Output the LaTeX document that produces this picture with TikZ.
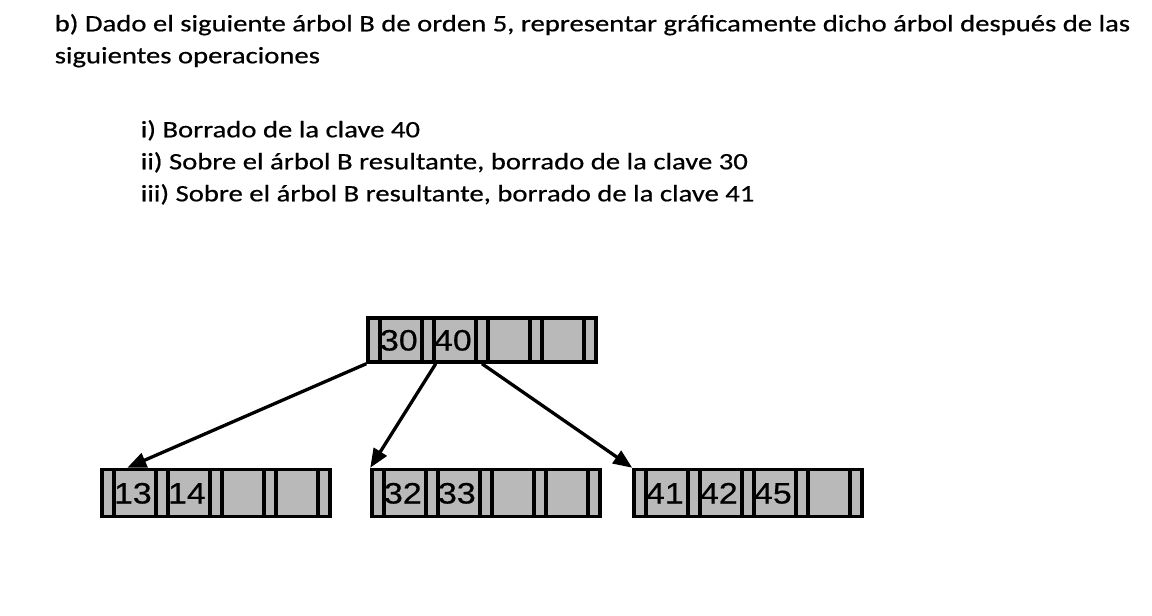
\documentclass[tikz,border=0pt]{standalone}
\usepackage{fontspec}
\setmainfont{Carlito}[FakeStretch=1.22,FakeBold=0.6]
\newfontfamily\keyfont{Liberation Sans}[FakeStretch=1.15,FakeBold=0.5]
\usetikzlibrary{arrows.meta,calc}

\begin{document}
\begin{tikzpicture}[
  x=1pt,y=-1pt,
  line width=3.5pt,
  txt/.style={anchor=base west, inner sep=0pt, font=\fontsize{23.5}{28}\selectfont},
  ptr/.style={draw, fill=gray!55, minimum width=12pt, minimum height=44pt, inner sep=0pt},
  key/.style={draw, fill=gray!55, text width=42pt, text height=21pt, text depth=0pt, minimum height=44pt, inner xsep=0pt, inner ysep=0pt, align=left, font=\keyfont\fontsize{29.5}{29.5}\selectfont},
  low/.style={minimum height=47pt},
  link/.style={-{Triangle[length=19pt,width=15pt]}, line width=3.3pt}
]
\useasboundingbox (0,0) rectangle (1152,616);

\node[txt] (t1) at (53,31.3) {b) Dado el siguiente árbol B de orden 5, representar gráficamente dicho árbol después de las};
\node[txt] (t2) at (53,63.3) {siguientes operaciones};
\node[txt] (op1) at (139,137.3) {i) Borrado de la clave 40};
\node[txt] (op2) at (139,169.3) {ii) Sobre el árbol B resultante, borrado de la clave 30};
\node[txt] (op3) at (139,201.3) {iii) Sobre el árbol B resultante, borrado de la clave 41};

% root
\node[ptr] (rp1) at (374,340) {};
\node[key] (rk1) at (401,340) {30};
\node[ptr] (rp2) at (428,340) {};
\node[key] (rk2) at (455,340) {40};
\node[ptr] (rp3) at (482,340) {};
\node[key] (rk3) at (509,340) {};
\node[ptr] (rp4) at (536,340) {};
\node[key] (rk4) at (563,340) {};
\node[ptr] (rp5) at (590,340) {};

% left child
\node[ptr,low] (ap1) at (108,493) {};
\node[key,low] (ak1) at (135,493) {13};
\node[ptr,low] (ap2) at (162,493) {};
\node[key,low] (ak2) at (189,493) {14};
\node[ptr,low] (ap3) at (216,493) {};
\node[key,low] (ak3) at (243,493) {};
\node[ptr,low] (ap4) at (270,493) {};
\node[key,low] (ak4) at (297,493) {};
\node[ptr,low] (ap5) at (324,493) {};

% middle child
\node[ptr,low] (bp1) at (378,493) {};
\node[key,low] (bk1) at (405,493) {32};
\node[ptr,low] (bp2) at (432,493) {};
\node[key,low] (bk2) at (459,493) {33};
\node[ptr,low] (bp3) at (486,493) {};
\node[key,low] (bk3) at (513,493) {};
\node[ptr,low] (bp4) at (540,493) {};
\node[key,low] (bk4) at (567,493) {};
\node[ptr,low] (bp5) at (594,493) {};

% right child
\node[ptr,low] (cp1) at (640,493) {};
\node[key,low] (ck1) at (667,493) {41};
\node[ptr,low] (cp2) at (694,493) {};
\node[key,low] (ck2) at (721,493) {42};
\node[ptr,low] (cp3) at (748,493) {};
\node[key,low] (ck3) at (775,493) {45};
\node[ptr,low] (cp4) at (802,493) {};
\node[key,low] (ck4) at (829,493) {};
\node[ptr,low] (cp5) at (856,493) {};

\draw[link] (rp1.south west) -- ($(ak1.north west)!0.33!(ak1.north east)$);
\draw[link] (rp2.south east) -- (bp1.north west);
\draw[link] (rp3.south) -- (cp1.north west);
\end{tikzpicture}
\end{document}
